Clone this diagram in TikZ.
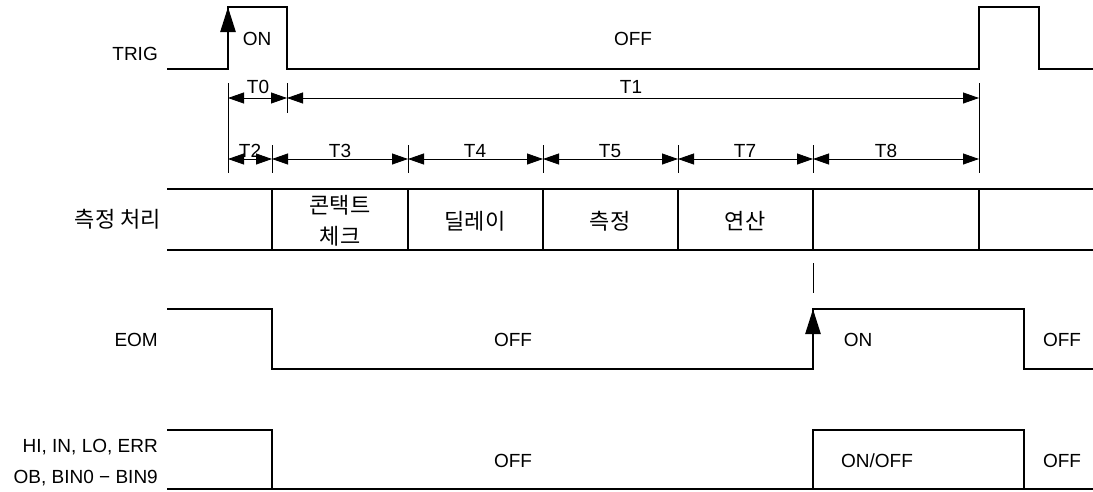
\documentclass[tikz,border=0pt]{standalone}
\usepackage{fontspec}
\setmainfont{Liberation Sans}
\newfontfamily\krfont{Noto Sans CJK KR}
\usetikzlibrary{arrows.meta}

\begin{document}
\begin{tikzpicture}[x=1pt, y=-1pt, line join=miter,
		sig/.style={line width=2.6pt},
		edge/.style={line width=2.6pt, -{Triangle[length=25pt,width=15pt]}},
		dim/.style={line width=0.8pt, {Triangle[length=16pt,width=11pt]}-{Triangle[length=16pt,width=11pt]}},
		tickline/.style={line width=0.8pt},
		lbl/.style={font=\fontsize{19}{21}\selectfont, inner sep=0pt, anchor=base},
		krlbl/.style={font=\krfont\fontsize{22}{31}\selectfont, inner sep=0pt, align=center}]
		\useasboundingbox (0,0) rectangle (1093,491);
		\def\xs{167}\def\xe{1093}
		% TRIG
		\node[lbl, anchor=base east] (trig) at (158,60) {TRIG};
		\draw[sig] (\xs,69) -| (228,7) -| (287,69) -| (979,7) -| (1039,69) -- (\xe,69);
		\draw[edge] (228,69) -- (228,7);
		\node[lbl] (trigon) at (257,45) {ON};
		\node[lbl] (trigoff) at (633,45) {OFF};
		% dimension lines, first row
		\draw[tickline] (228,83) -- (228,173);
		\draw[tickline] (287,83) -- (287,113);
		\draw[tickline] (979,83) -- (979,173);
		\draw[dim] (228,98) -- (287,98);
		\draw[dim] (287,98) -- (979,98);
		\node[lbl] (T0) at (258,93) {T0};
		\node[lbl] (T1) at (631,93) {T1};
		% dimension lines, second row
		\foreach \x in {272,408,543,678,813} \draw[tickline] (\x,145) -- (\x,173);
		\foreach \a/\b/\m/\t in {228/272/250/T2, 272/408/340/T3, 408/543/475/T4,
			543/678/610/T5, 678/813/745/T7, 813/979/886/T8} {
			\draw[dim] (\a,159) -- (\b,159);
			\node[lbl] (\t) at (\m,157) {\t};
		}
		% processing row
		\node[krlbl, anchor=east] (proc) at (161,219) {측정 처리};
		\draw[sig] (\xs,189) -- (\xe,189);
		\draw[sig] (\xs,250) -- (\xe,250);
		\foreach \x in {272,408,543,678,813,979} \draw[sig] (\x,189) -- (\x,250);
		\node[krlbl] (contact) at (340,221) {콘택트\\체크};
		\node[krlbl] (delay) at (475,221) {딜레이};
		\node[krlbl] (meas) at (610,221) {측정};
		\node[krlbl] (calc) at (745,221) {연산};
		\draw[tickline] (813,263) -- (813,293);
		% EOM
		\node[lbl, anchor=base east] (eom) at (158,346) {EOM};
		\draw[sig] (\xs,309) -| (272,369) -| (813,309) -| (1024,369) -- (\xe,369);
		\draw[edge] (813,369) -- (813,309);
		\node[lbl] (eomoff) at (513,346) {OFF};
		\node[lbl] (eomon) at (858,346) {ON};
		\node[lbl] (eomoff2) at (1062,346) {OFF};
		% judgement outputs
		\node[lbl, anchor=base east] (judge) at (158,452) {HI, IN, LO, ERR};
		\node[lbl, anchor=base east] (bin) at (158,483) {OB, BIN0 − BIN9};
		\draw[sig] (\xs,430) -| (272,489);
		\draw[sig] (\xs,489) -- (\xe,489);
		\draw[sig] (813,489) |- (1024,430) -- (1024,489);
		\node[lbl] (judgeoff) at (513,467) {OFF};
		\node[lbl] (judgeon) at (877,467) {ON/OFF};
		\node[lbl] (judgeoff2) at (1062,467) {OFF};
	\end{tikzpicture}
\end{document}
